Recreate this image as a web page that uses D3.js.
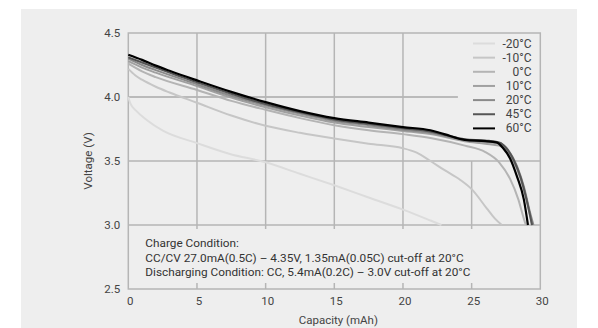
<!DOCTYPE html>
<html><head><meta charset="utf-8">
<script src="https://cdn.jsdelivr.net/npm/d3@7"></script>
<style>
html,body{margin:0;padding:0;background:#fff;}
svg{display:block;font-family:Roboto,"Noto Sans",sans-serif;}
</style></head>
<body><svg id="c" width="598" height="328"></svg>
<script>
// ---- data ----
const seriesNames = ["-20°C","-10°C","0°C","10°C","20°C","45°C","60°C"];
const seriesColors = ["#dcdcdc","#c6c6c6","#b4b4b4","#a0a0a0","#8a8a8a","#555555","#000000"];
const xTicks = [0,5,10,15,20,25,30];
const yTicks = [2.5,3.0,3.5,4.0,4.5];
const yTickLabels = ["2.5","3.0","3.5","4.0","4.5"];

const curveM20 = [[0,4.0],[0.15,3.95],[0.6,3.89],[1.34,3.82],[2.55,3.735],[5,3.64],[7.4,3.555],[10,3.49],[12.5,3.40],[15,3.31],[17.5,3.215],[20,3.12],[22,3.035],[22.8,3.0]];
const curveM10 = [[0,4.22],[0.5,4.17],[1,4.135],[2,4.08],[3,4.035],[5,3.955],[7.5,3.855],[10,3.775],[12.5,3.72],[15,3.675],[17.5,3.635],[20,3.60],[21,3.565],[22,3.50],[23,3.43],[24.2,3.35],[25,3.28],[26.1,3.13],[26.7,3.05],[27.2,3.0]];
const curve0 = [[0,4.26],[1,4.2],[2,4.155],[5,4.055],[7.5,3.97],[10,3.90],[12.5,3.835],[15,3.78],[17.5,3.74],[20,3.71],[22,3.68],[24.5,3.62],[26,3.57],[27,3.49],[27.8,3.36],[28.4,3.2],[28.8,3.05],[28.95,3.0]];
const curve10 = [[0,4.28],[1,4.23],[2,4.19],[5,4.085],[7.5,3.995],[10,3.92],[12.5,3.855],[15,3.80],[17.5,3.765],[20,3.735],[22,3.71],[24.5,3.655],[26,3.635],[27,3.62],[27.7,3.56],[28.3,3.44],[28.8,3.28],[29.2,3.1],[29.4,3.0]];
const curve20 = [[0,4.30],[1,4.25],[2,4.21],[5,4.10],[7.5,4.01],[10,3.935],[12.5,3.87],[15,3.815],[17.5,3.78],[20,3.745],[22,3.72],[24.5,3.665],[26,3.65],[27,3.64],[27.7,3.58],[28.3,3.46],[28.8,3.3],[29.2,3.12],[29.5,3.0]];
const curve45 = [[0,4.31],[1,4.27],[2,4.23],[3,4.19],[5,4.115],[7.5,4.025],[10,3.945],[12.5,3.88],[15,3.825],[17.5,3.79],[20,3.755],[22,3.73],[23,3.705],[24.5,3.67],[26,3.66],[27,3.645],[27.6,3.59],[28.1,3.50],[28.6,3.36],[29.0,3.2],[29.4,3.0]];
const curve60 = [[0,4.33],[1,4.29],[2,4.245],[3,4.205],[5,4.13],[7.5,4.04],[10,3.96],[12.5,3.89],[15,3.835],[17.5,3.80],[20,3.765],[22,3.74],[23,3.71],[24.5,3.665],[26,3.655],[26.8,3.645],[27.3,3.60],[27.8,3.52],[28.3,3.38],[28.8,3.20],[29.1,3.0]];
const allCurves = [curveM20,curveM10,curve0,curve10,curve20,curve45,curve60];

const noteLines = ["Charge Condition:",
  "CC/CV 27.0mA(0.5C) – 4.35V, 1.35mA(0.05C) cut-off at 20°C",
  "Discharging Condition: CC, 5.4mA(0.2C) – 3.0V cut-off at 20°C"];

// ---- chart ----
const svg = d3.select("#c");
svg.append("rect").attr("x",21).attr("y",9).attr("width",556).attr("height",319).attr("fill","#eeeeee");

const x = d3.scaleLinear().domain([0,30]).range([128.3,540.3]);
const y = d3.scaleLinear().domain([2.5,4.5]).range([289,33]);
const gridC = "#b5b5b5", gw = 1.5;
const g = svg.append("g");

// horizontal grid
g.append("line").attr("x1",x(0)).attr("x2",x(24.0)).attr("y1",y(4.0)).attr("y2",y(4.0)).attr("stroke","#a8a8a8").attr("stroke-width",gw);
[3.5,3.0].forEach(v=>g.append("line").attr("x1",x(0)).attr("x2",x(30)).attr("y1",y(v)).attr("y2",y(v)).attr("stroke",gridC).attr("stroke-width",gw));
// vertical grid
[5,10,15,20].forEach(v=>{
  g.append("line").attr("x1",x(v)).attr("x2",x(v)).attr("y1",y(4.5)).attr("y2",y(3.0)+4).attr("stroke",gridC).attr("stroke-width",gw);
});
g.append("line").attr("x1",x(25)).attr("x2",x(25)).attr("y1",y(3.5)).attr("y2",y(3.0)+4).attr("stroke",gridC).attr("stroke-width",gw);
[5,10,15,20,25].forEach(v=>{
  g.append("line").attr("x1",x(v)).attr("x2",x(v)).attr("y1",y(2.5)-6).attr("y2",y(2.5)).attr("stroke",gridC).attr("stroke-width",gw);
});
// frame
g.append("rect").attr("x",x(0)).attr("y",y(4.5)).attr("width",x(30)-x(0)).attr("height",y(2.5)-y(4.5))
  .attr("fill","none").attr("stroke",gridC).attr("stroke-width",gw);

// curves
const line = d3.line().x(d=>x(d[0])).y(d=>y(d[1])).curve(d3.curveMonotoneX);
allCurves.forEach((c,i)=>{
  svg.append("path").attr("d",line(c)).attr("fill","none")
    .attr("stroke",seriesColors[i]).attr("stroke-width", i===6?2.2:2);
});

// axes labels
const yAxis = d3.axisLeft(y).tickValues(yTicks).tickFormat((d,i)=>yTickLabels[i]).tickSize(0).tickPadding(8);
const ya = svg.append("g").attr("transform",`translate(${x(0)},0)`).call(yAxis);
ya.select(".domain").remove();
ya.selectAll("text").attr("font-size",11.5).attr("fill","#444").attr("font-family","Roboto");

const xAxis = d3.axisBottom(x).tickValues(xTicks).tickSize(0).tickPadding(8);
const xa = svg.append("g").attr("transform",`translate(1.5,${y(2.5)})`).call(xAxis);
xa.select(".domain").remove();
xa.selectAll("text").attr("font-size",11.5).attr("fill","#444").attr("font-family","Roboto");

svg.append("text").attr("x",(x(0)+x(30))/2+4).attr("y",324).attr("text-anchor","middle")
  .attr("font-size",11.5).attr("fill","#444").text("Capacity (mAh)");
svg.append("text").attr("transform",`translate(92,${(y(2.5)+y(4.5))/2}) rotate(-90)`).attr("text-anchor","middle")
  .attr("font-size",11.5).attr("fill","#444").text("Voltage (V)");

// notes
noteLines.forEach((t,i)=>{
  svg.append("text").attr("x",x(0)+17).attr("y",247+i*14.5).attr("font-size",11.8).attr("fill","#333").text(t);
});

// legend
const lg = svg.append("g");
seriesNames.forEach((n,i)=>{
  const yy = 43.5 + i*14.15;
  lg.append("line").attr("x1",473).attr("x2",495).attr("y1",yy).attr("y2",yy)
    .attr("stroke",seriesColors[i]).attr("stroke-width",2);
  lg.append("text").attr("x",531.5).attr("y",yy+4).attr("text-anchor","end")
    .attr("font-size",12).attr("fill","#444").text(n);
});
</script></body></html>
